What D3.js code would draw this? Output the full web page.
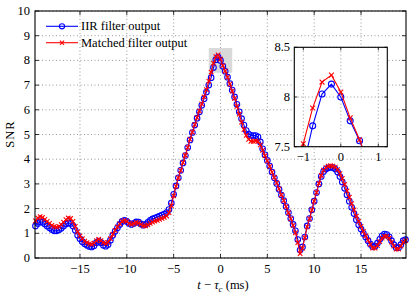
<!DOCTYPE html>
<html>
<head>
<meta charset="utf-8">
<script src="https://cdn.jsdelivr.net/npm/d3@7"></script>
<style>
  body { margin: 0; background: #fff; }
  svg { display: block; }
  text { font-family: "Liberation Serif", "Times New Roman", serif; fill: #000; }
</style>
</head>
<body>
<div id="chart"></div>
<script>
// sample times: every 0.25 ms from -19.75 to 19.75
const tStart = -19.75;
const tStep = 0.25;

// IIR filter output (each row = 4 samples, ending at the integer in the comment)
const iirSnr = [
  1.30, 1.40, 1.47, 1.45,   // -19
  1.38, 1.30, 1.22, 1.15,   // -18
  1.10, 1.10, 1.14, 1.20,   // -17
  1.30, 1.38, 1.42, 1.40,   // -16
  1.30, 1.12, 0.92, 0.78,   // -15
  0.66, 0.58, 0.52, 0.47,   // -14
  0.45, 0.50, 0.62, 0.68,   // -13
  0.62, 0.52, 0.48, 0.55,   // -12
  0.72, 0.92, 1.08, 1.22,   // -11
  1.36, 1.48, 1.52, 1.48,   // -10
  1.40, 1.36, 1.40, 1.46,   // -9
  1.45, 1.38, 1.33, 1.36,   // -8
  1.44, 1.52, 1.58, 1.62,   // -7
  1.66, 1.70, 1.74, 1.78,   // -6
  1.84, 1.96, 2.22, 2.58,   // -5
  2.92, 3.25, 3.55, 3.85,   // -4
  4.15, 4.47, 4.78, 5.08,   // -3
  5.38, 5.66, 5.92, 6.18,   // -2
  6.45, 6.72, 7.00, 7.30,   // -1
  7.71, 8.03, 8.13, 8.00,   // 0
  7.76, 7.56, 7.32, 7.06,   // 1
  6.80, 6.52, 6.22, 5.92,   // 2
  5.64, 5.38, 5.16, 5.02,   // 3
  4.96, 4.96, 4.96, 4.90,   // 4
  4.70, 4.42, 4.18, 3.95,   // 5
  3.72, 3.48, 3.25, 3.02,   // 6
  2.78, 2.55, 2.32, 2.08,   // 7
  1.84, 1.60, 1.36, 1.10,   // 8
  0.75, 0.32, 0.45, 0.85,   // 9
  1.30, 1.60, 1.95, 2.30,   // 10
  2.65, 3.00, 3.30, 3.50,   // 11
  3.60, 3.65, 3.67, 3.66,   // 12
  3.60, 3.48, 3.30, 3.08,   // 13
  2.82, 2.56, 2.30, 2.05,   // 14
  1.80, 1.55, 1.35, 1.17,   // 15
  1.00, 0.85, 0.70, 0.56,   // 16
  0.46, 0.48, 0.60, 0.76,   // 17
  0.90, 0.97, 0.95, 0.86,   // 18
  0.70, 0.54, 0.42, 0.42,   // 19
  0.54, 0.70, 0.74
];

// Matched filter output
const matchedSnr = [
  1.50, 1.62, 1.68, 1.64,   // -19
  1.56, 1.48, 1.40, 1.32,   // -18
  1.27, 1.25, 1.28, 1.35,   // -17
  1.45, 1.55, 1.62, 1.60,   // -16
  1.48, 1.28, 1.06, 0.90,   // -15
  0.78, 0.68, 0.62, 0.57,   // -14
  0.55, 0.60, 0.70, 0.76,   // -13
  0.70, 0.62, 0.58, 0.63,   // -12
  0.78, 0.96, 1.12, 1.26,   // -11
  1.38, 1.48, 1.52, 1.48,   // -10
  1.40, 1.36, 1.39, 1.44,   // -9
  1.42, 1.36, 1.30, 1.30,   // -8
  1.34, 1.40, 1.45, 1.49,   // -7
  1.52, 1.56, 1.60, 1.64,   // -6
  1.70, 1.84, 2.12, 2.52,   // -5
  2.90, 3.24, 3.55, 3.86,   // -4
  4.16, 4.48, 4.80, 5.10,   // -3
  5.40, 5.68, 5.96, 6.24,   // -2
  6.52, 6.82, 7.16, 7.53,   // -1
  7.89, 8.15, 8.22, 8.05,   // 0
  7.79, 7.57, 7.32, 7.04,   // 1
  6.76, 6.46, 6.14, 5.82,   // 2
  5.50, 5.20, 4.96, 4.80,   // 3
  4.72, 4.72, 4.74, 4.72,   // 4
  4.58, 4.36, 4.14, 3.93,   // 5
  3.71, 3.48, 3.26, 3.04,   // 6
  2.80, 2.56, 2.32, 2.08,   // 7
  1.83, 1.58, 1.32, 1.02,   // 8
  0.62, 0.18, 0.40, 0.82,   // 9
  1.26, 1.58, 1.94, 2.30,   // 10
  2.66, 3.02, 3.34, 3.56,   // 11
  3.66, 3.72, 3.74, 3.72,   // 12
  3.68, 3.58, 3.42, 3.22,   // 13
  2.98, 2.72, 2.46, 2.20,   // 14
  1.95, 1.70, 1.48, 1.28,   // 15
  1.08, 0.90, 0.72, 0.55,   // 16
  0.40, 0.40, 0.50, 0.66,   // 17
  0.80, 0.88, 0.88, 0.80,   // 18
  0.64, 0.48, 0.36, 0.36,   // 19
  0.48, 0.64, 0.70
];

const seriesNames = ['IIR filter output', 'Matched filter output'];
const xTicks = [-15, -10, -5, 0, 5, 10, 15];
const yTicks = [0, 1, 2, 3, 4, 5, 6, 7, 8, 9, 10];
const insetXTicks = [-1, 0, 1];
const insetYTicks = [7.5, 8, 8.5];
const zoomBox = { x0: -1.25, x1: 1.25, y0: 7.5, y1: 8.5 };

const W = 415, H = 297;
const BLUE = '#0000ff', RED = '#ff0000';
const FONT = '12.5px';

const toPoints = arr => arr.map((v, i) => ({ t: tStart + i * tStep, v: v }));
const series = [
  { name: seriesNames[0], data: toPoints(iirSnr), color: BLUE, marker: 'circle' },
  { name: seriesNames[1], data: toPoints(matchedSnr), color: RED, marker: 'cross' }
];

const svg = d3.select('#chart').append('svg')
  .attr('width', W)
  .attr('height', H);

// main axes
const x = d3.scaleLinear().domain([-19.8, 19.8]).range([35, 406]);
const y = d3.scaleLinear().domain([0, 10]).range([258, 11]);

// inset axes
const xi = d3.scaleLinear().domain([-1.24, 1.24]).range([294.3, 387.3]);
const yi = d3.scaleLinear().domain([7.5, 8.5]).range([146.7, 47.3]);

function drawGrid(g, xs, ys, xt, yt) {
  const [xa, xb] = xs.range();
  const [ya, yb] = ys.range();
  g.selectAll('.gx').data(xt).enter().append('line')
    .attr('x1', d => xs(d)).attr('x2', d => xs(d))
    .attr('y1', ya).attr('y2', yb)
    .attr('stroke', '#555').attr('stroke-width', 0.6)
    .attr('stroke-dasharray', '1,2.5');
  g.selectAll('.gy').data(yt).enter().append('line')
    .attr('x1', xa).attr('x2', xb)
    .attr('y1', d => ys(d)).attr('y2', d => ys(d))
    .attr('stroke', '#555').attr('stroke-width', 0.6)
    .attr('stroke-dasharray', '1,2.5');
}

function drawFrame(g, xs, ys, xt, yt, tick) {
  const [xa, xb] = xs.range();
  const [ya, yb] = ys.range();
  // inward ticks on all four sides (matlab style)
  xt.forEach(d => {
    g.append('line').attr('x1', xs(d)).attr('x2', xs(d)).attr('y1', ya).attr('y2', ya - tick)
      .attr('stroke', '#000').attr('stroke-width', 0.8);
    g.append('line').attr('x1', xs(d)).attr('x2', xs(d)).attr('y1', yb).attr('y2', yb + tick)
      .attr('stroke', '#000').attr('stroke-width', 0.8);
  });
  yt.forEach(d => {
    g.append('line').attr('x1', xa).attr('x2', xa + tick).attr('y1', ys(d)).attr('y2', ys(d))
      .attr('stroke', '#000').attr('stroke-width', 0.8);
    g.append('line').attr('x1', xb).attr('x2', xb - tick).attr('y1', ys(d)).attr('y2', ys(d))
      .attr('stroke', '#000').attr('stroke-width', 0.8);
  });
  g.append('rect')
    .attr('x', xa).attr('y', yb)
    .attr('width', xb - xa).attr('height', ya - yb)
    .attr('fill', 'none').attr('stroke', '#000').attr('stroke-width', 1.1);
}

function drawMarkers(g, s, xs, ys, r) {
  if (s.marker === 'circle') {
    g.selectAll(null).data(s.data).enter().append('circle')
      .attr('cx', d => xs(d.t)).attr('cy', d => ys(d.v)).attr('r', r)
      .attr('fill', 'none').attr('stroke', s.color).attr('stroke-width', 1.1);
  } else {
    const k = r * 0.8;
    g.selectAll(null).data(s.data).enter().append('path')
      .attr('d', d => {
        const cx = xs(d.t), cy = ys(d.v);
        return `M${cx - k},${cy - k}L${cx + k},${cy + k}M${cx - k},${cy + k}L${cx + k},${cy - k}`;
      })
      .attr('stroke', s.color).attr('stroke-width', 1.1);
  }
}

function drawSeries(g, xs, ys, r) {
  series.forEach(s => {
    const line = d3.line().x(d => xs(d.t)).y(d => ys(d.v));
    g.append('path').datum(s.data)
      .attr('d', line)
      .attr('fill', 'none').attr('stroke', s.color).attr('stroke-width', 1.1);
    drawMarkers(g, s, xs, ys, r);
  });
}

// ---- main plot ----
const main = svg.append('g');
main.append('rect')
  .attr('x', x.range()[0]).attr('y', y.range()[1])
  .attr('width', x.range()[1] - x.range()[0]).attr('height', y.range()[0] - y.range()[1])
  .attr('fill', '#fff');
drawGrid(main, x, y, xTicks, yTicks);

// highlighted zoom region
main.append('rect')
  .attr('x', x(zoomBox.x0)).attr('y', y(zoomBox.y1))
  .attr('width', x(zoomBox.x1) - x(zoomBox.x0))
  .attr('height', y(zoomBox.y0) - y(zoomBox.y1))
  .attr('fill', '#d9d9d9');

drawSeries(main, x, y, 2.8);
drawFrame(main, x, y, xTicks, yTicks, 4);

// tick labels
main.selectAll('.xl').data(xTicks).enter().append('text')
  .attr('x', d => x(d)).attr('y', 273)
  .attr('text-anchor', 'middle')
  .style('font-size', FONT)
  .text(d => d < 0 ? '\u2212' + Math.abs(d) : d);
main.selectAll('.yl').data(yTicks).enter().append('text')
  .attr('x', 30).attr('y', d => y(d))
  .attr('text-anchor', 'end')
  .attr('dominant-baseline', 'central')
  .style('font-size', FONT)
  .text(d => d);

// axis titles
const xlab = main.append('text')
  .attr('x', 223).attr('y', 289)
  .attr('text-anchor', 'middle')
  .style('font-size', FONT);
xlab.append('tspan').style('font-style', 'italic').text('t');
xlab.append('tspan').text(' \u2212 ');
xlab.append('tspan').style('font-style', 'italic').text('\u03c4');
xlab.append('tspan').style('font-style', 'italic').style('font-size', '9px').attr('dy', 3).text('c');
xlab.append('tspan').attr('dy', -3).text(' (ms)');

main.append('text')
  .attr('transform', 'translate(14,134) rotate(-90)')
  .attr('text-anchor', 'middle')
  .style('font-size', FONT)
  .style('letter-spacing', '1px')
  .text('SNR');

// legend (no box, grid shows through)
const legend = main.append('g');
series.forEach((s, i) => {
  const ly = 26.3 + i * 16.4;
  legend.append('line')
    .attr('x1', 46).attr('x2', 78).attr('y1', ly).attr('y2', ly)
    .attr('stroke', s.color).attr('stroke-width', 1.1);
  drawMarkers(legend, { marker: s.marker, color: s.color, data: [{ t: 62, v: ly }] },
    d => d, d => d, 2.6);
  legend.append('text')
    .attr('x', 81).attr('y', ly)
    .attr('dominant-baseline', 'central')
    .style('font-size', FONT)
    .text(s.name);
});

// ---- inset ----
const inset = svg.append('g');
svg.append('defs').append('clipPath').attr('id', 'insetClip')
  .append('rect')
  .attr('x', xi.range()[0]).attr('y', yi.range()[1])
  .attr('width', xi.range()[1] - xi.range()[0])
  .attr('height', yi.range()[0] - yi.range()[1]);

inset.append('rect')
  .attr('x', xi.range()[0]).attr('y', yi.range()[1])
  .attr('width', xi.range()[1] - xi.range()[0])
  .attr('height', yi.range()[0] - yi.range()[1])
  .attr('fill', '#fff');
drawGrid(inset, xi, yi, insetXTicks, insetYTicks);
const insetData = inset.append('g').attr('clip-path', 'url(#insetClip)');
drawSeries(insetData, xi, yi, 3);
drawFrame(inset, xi, yi, insetXTicks, insetYTicks, 3);

inset.selectAll('.ixl').data(insetXTicks).enter().append('text')
  .attr('x', d => xi(d)).attr('y', 161)
  .attr('text-anchor', 'middle')
  .style('font-size', FONT)
  .text(d => d < 0 ? '\u2212' + Math.abs(d) : d);
inset.selectAll('.iyl').data(insetYTicks).enter().append('text')
  .attr('x', 290).attr('y', d => yi(d))
  .attr('text-anchor', 'end')
  .attr('dominant-baseline', 'central')
  .style('font-size', FONT)
  .text(d => d);
</script>
</body>
</html>
